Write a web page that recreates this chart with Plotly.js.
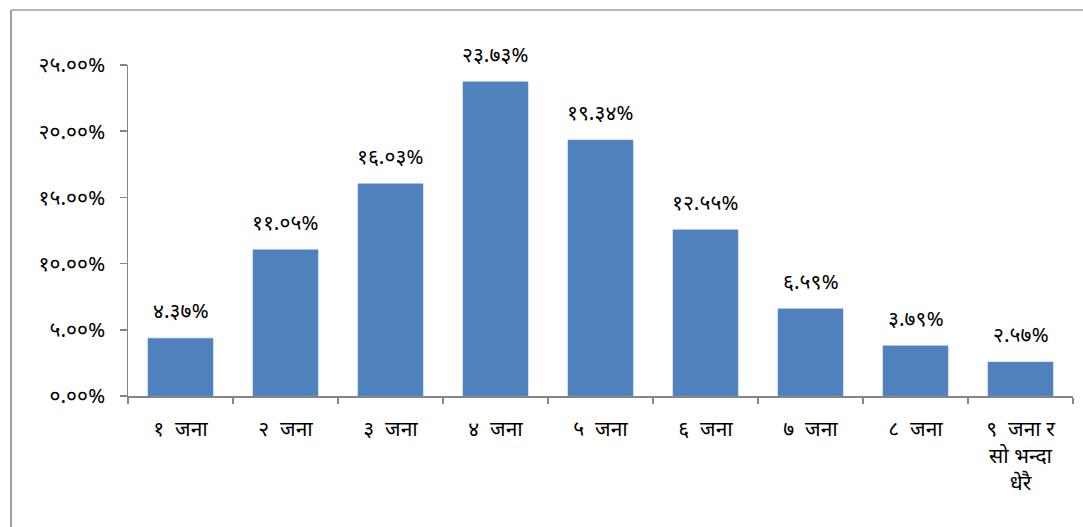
<!DOCTYPE html>
<html>
<head>
<meta charset="utf-8">
<script src="https://cdn.plot.ly/plotly-3.0.1.min.js"></script>
<style>
html,body{margin:0;padding:0;background:#fff;}
#chart{width:1083px;height:527px;}
</style>
</head>
<body>
<div id="chart"></div>
<script>
const categories = ['१  जना','२  जना','३  जना','४  जना','५  जना','६  जना','७  जना','८  जना','९  जना र<br>सो भन्दा<br>धेरै'];
const values = [4.37, 11.05, 16.03, 23.73, 19.34, 12.55, 6.59, 3.79, 2.57];
const yTickVals = [0, 5, 10, 15, 20, 25];

const devDigits = ['०','१','२','३','४','५','६','७','८','९'];
function toDev(s){ return String(s).replace(/[0-9]/g, d => devDigits[+d]); }
function pct(v){ return toDev(v.toFixed(2)) + '%'; }

const W = 1083, H = 527;
const margin = {l:128, r:10, t:65, b:131};
const pw = W - margin.l - margin.r, ph = H - margin.t - margin.b;
const px = x => (x - margin.l) / pw;
const py = y => (H - margin.b - y) / ph;

const fontFam = '"Noto Sans Devanagari", "Noto Sans", sans-serif';

const trace = {
  type:'bar',
  x: categories,
  y: values,
  marker:{color:'#4F81BD', line:{color:'#6b96cc', width:0.5}},
  hoverinfo:'none'
};

const annotations = categories.map((c,i)=>({
  x:c, y:values[i], xref:'x', yref:'y',
  text:pct(values[i]), showarrow:false,
  yanchor:'bottom', yshift:9,
  font:{family:fontFam, size:21, color:'#000'}
}));

const layout = {
  width:W, height:H,
  margin:margin,
  paper_bgcolor:'#fff', plot_bgcolor:'#fff',
  showlegend:false,
  bargap:0.38,
  font:{family:fontFam, size:21, color:'#000'},
  xaxis:{
    type:'category',
    showline:true, linecolor:'#868686', linewidth:1.5,
    ticks:'outside', ticklen:6, tickcolor:'#868686', tickwidth:1.5,
    tickson:'boundaries',
    showgrid:false, zeroline:false,
    tickfont:{family:fontFam, size:21, color:'#000'},
    ticklabelstandoff:13,
    automargin:false
  },
  yaxis:{
    range:[0,25],
    tickvals:yTickVals,
    ticktext:yTickVals.map(pct),
    showline:true, linecolor:'#868686', linewidth:1.5,
    ticks:'outside', ticklen:7, tickcolor:'#868686', tickwidth:1.5,
    showgrid:false, zeroline:false,
    tickfont:{family:fontFam, size:21, color:'#000'},
    ticklabelstandoff:10,
    automargin:false
  },
  annotations:annotations,
  shapes:[
    {type:'line', xref:'paper', yref:'paper', x0:px(11), x1:px(11), y0:py(10), y1:py(527), line:{color:'#a0a0a0', width:2}},
    {type:'line', xref:'paper', yref:'paper', x0:px(11), x1:px(1083), y0:py(10), y1:py(10), line:{color:'#a0a0a0', width:1.5}}
  ]
};

Plotly.newPlot('chart', [trace], layout, {staticPlot:true, displayModeBar:false});
</script>
</body>
</html>
